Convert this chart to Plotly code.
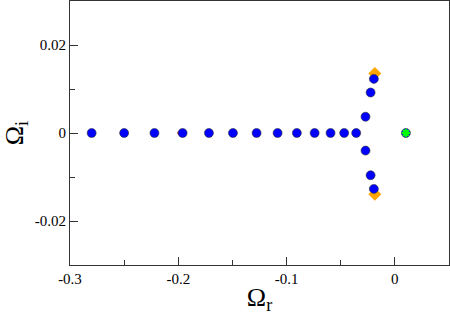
import plotly.graph_objects as go

# blue roots (real, imaginary)
blue_r = [-0.28, -0.25, -0.222, -0.196, -0.1717, -0.1495, -0.1277, -0.1083, -0.0905,
          -0.0741, -0.0594, -0.0468, -0.0357,
          -0.0271, -0.0271, -0.0224, -0.0224, -0.0194, -0.0194, 0.0102]
blue_i = [0, 0, 0, 0, 0, 0, 0, 0, 0, 0, 0, 0, 0,
          0.0037, -0.0040, 0.0092, -0.0096, 0.0123, -0.0127, 0]
orange_r = [-0.0185, -0.0185]
orange_i = [0.0135, -0.0139]
red_r = [-0.199]
red_i = [0.0]
green_r = [0.0102]
green_i = [0.0]

xtick_vals = [-0.3, -0.2, -0.1, 0]
xtick_text = ["-0.3", "-0.2", "-0.1", "0"]
ytick_vals = [-0.02, 0, 0.02]
ytick_text = ["-0.02", "0", "0.02"]

fig = go.Figure()
fig.add_trace(go.Scatter(x=red_r, y=red_i, mode="markers",
                         marker=dict(symbol="circle", size=4, color="#d00000")))
fig.add_trace(go.Scatter(x=orange_r, y=orange_i, mode="markers",
                         marker=dict(symbol="diamond", size=10, color="#ffa500")))
fig.add_trace(go.Scatter(x=blue_r, y=blue_i, mode="markers",
                         marker=dict(symbol="circle", size=9, color="#0000ff",
                                     line=dict(color="#333333", width=0.6))))
fig.add_trace(go.Scatter(x=green_r, y=green_i, mode="markers",
                         marker=dict(symbol="asterisk-open", size=7, color="#00ff00",
                                     line=dict(color="#00ff00", width=2))))

serif = "Liberation Serif"
fig.update_layout(
    width=450, height=315,
    margin=dict(l=70, r=1, t=1, b=50),
    paper_bgcolor="white", plot_bgcolor="white",
    showlegend=False,
    font=dict(family=serif, color="black", size=14),
    xaxis=dict(range=[-0.3, 0.05], tickvals=xtick_vals, ticktext=xtick_text,
               tickfont=dict(family=serif, size=15, color="black"),
               ticks="inside", ticklen=8, tickwidth=1, tickcolor="#333",
               minor=dict(dtick=0.05, ticks="inside", ticklen=5, tickcolor="#333"),
               showline=True, linecolor="#333", linewidth=1.2, mirror=True,
               showgrid=False, zeroline=False,
               title=dict(text="Ω<sub>r</sub>", font=dict(family=serif, size=26), standoff=2)),
    yaxis=dict(range=[-0.03, 0.03], tickvals=ytick_vals, ticktext=ytick_text,
               tickfont=dict(family=serif, size=15, color="black"),
               ticks="inside", ticklen=8, tickwidth=1, tickcolor="#333",
               minor=dict(dtick=0.01, ticks="inside", ticklen=5, tickcolor="#333"),
               showline=True, linecolor="#333", linewidth=1.2, mirror=True,
               showgrid=False, zeroline=False,
               title=dict(text="Ω<sub>i</sub>", font=dict(family=serif, size=26), standoff=12)),
)
fig.write_html("out.html", post_script="document.body.style.margin='0';",
               config={"displayModeBar": False})
